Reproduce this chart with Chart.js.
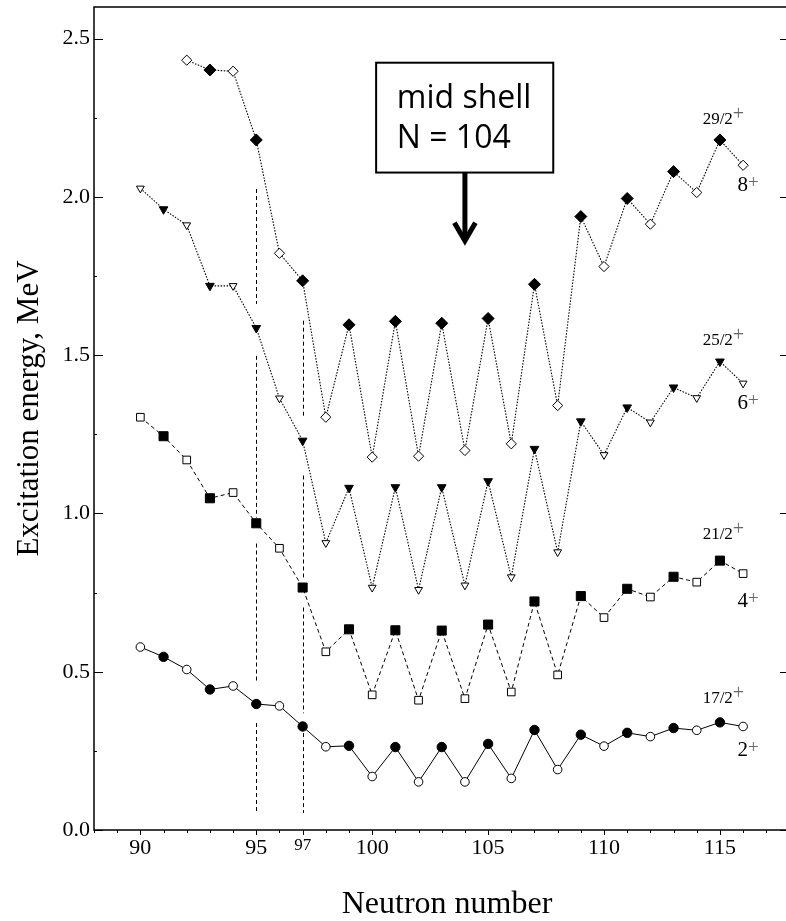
<!DOCTYPE html>
<html><head><meta charset="utf-8">
<script src="https://cdn.jsdelivr.net/npm/chart.js@4/dist/chart.umd.min.js"></script>
<style>html,body{margin:0;padding:0;background:#fff;overflow:hidden}#wrap{width:786px;height:921px;position:relative}</style>
</head><body><div id="wrap"><canvas id="c" width="786" height="921"></canvas></div>
<script>
// ---- data ----
const neutronN  = [90,91,92,93,94,95,96,97,98,99,100,101,102,103,104,105,106,107,108,109,110,111,112,113,114,115,116];
const neutronN8 = [92,93,94,95,96,97,98,99,100,101,102,103,104,105,106,107,108,109,110,111,112,113,114,115,116];
const e2plus = [0.578,0.547,0.507,0.444,0.455,0.398,0.392,0.327,0.263,0.266,0.169,0.262,0.152,0.262,0.152,0.272,0.163,0.316,0.191,0.301,0.265,0.307,0.295,0.322,0.315,0.340,0.327];
const e4plus = [1.304,1.244,1.169,1.048,1.066,0.969,0.890,0.766,0.563,0.634,0.427,0.631,0.410,0.630,0.415,0.649,0.436,0.722,0.490,0.739,0.671,0.762,0.736,0.800,0.783,0.851,0.810];
const e6plus = [2.027,1.961,1.911,1.719,1.719,1.586,1.364,1.230,0.907,1.081,0.766,1.083,0.759,1.083,0.773,1.102,0.799,1.204,0.878,1.291,1.185,1.335,1.288,1.398,1.365,1.480,1.411];
const e8plus = [2.432,2.401,2.397,2.180,1.822,1.735,1.304,1.596,1.178,1.607,1.181,1.601,1.199,1.616,1.220,1.724,1.341,1.938,1.780,1.995,1.914,2.080,2.014,2.180,2.100];
const xTickLabels = [90,95,97,100,105,110,115];
const yTickValues = [0,0.5,1.0,1.5,2.0,2.5];
const evenLabels = ['2','4','6','8'];
const oddLabels  = ['17/2','21/2','25/2','29/2'];
const xTitle = 'Neutron number';
const yTitle = 'Excitation energy, MeV';
const boxLines = ['mid shell','N = 104'];
const midShellN = 104;
const guideN = [95, 97];
const guideSegs = [
  [[2.025,1.662],[1.498,0.987],[0.905,0.467],[0.338,0.054]],
  [[1.609,1.300],[1.120,0.798],[0.703,0.369],[0.306,0.054]]
];
const boxN = [100.17, 107.81];
const boxE = [2.424, 2.077];
const arrowTipE = 1.852;

// ---- styles ----
const SERIF = '"Liberation Serif","Times New Roman",serif';
const SANS = '"Open Sans","Noto Sans",sans-serif';
const isOdd = c => c.raw && (c.raw.x % 2 === 1);

function series(ns, es, style, rFilled, rOpen, dash, bw) {
  return {
    data: ns.map((n,i)=>({x:n, y:es[i]})),
    borderColor:'#000', borderWidth:bw, borderDash:dash,
    pointStyle:style, pointRotation: style==='triangle'?180:0,
    pointRadius: c => isOdd(c) ? rFilled : rOpen,
    pointBackgroundColor: c => isOdd(c) ? '#000' : '#fff',
    pointBorderColor:'#000', pointBorderWidth:1,
    tension:0, fill:false
  };
}

// label offsets (px) relative to last two points
const labelOffsets = [
  {oddDy:-19, evenDy:30},
  {oddDy:-22, evenDy:33},
  {oddDy:-17, evenDy:26},
  {oddDy:-16, evenDy:26}
];

const decor = {
  id:'decor',
  beforeDatasetsDraw(chart){
    const {ctx, scales:{x,y}} = chart;
    ctx.save(); ctx.strokeStyle='#000'; ctx.lineWidth=1; ctx.setLineDash([4,3]);
    guideN.forEach((n,k)=>{
      const px = Math.round(x.getPixelForValue(n))+0.5;
      guideSegs[k].forEach(([a,b])=>{
        ctx.beginPath(); ctx.moveTo(px, y.getPixelForValue(a)); ctx.lineTo(px, y.getPixelForValue(b)); ctx.stroke();
      });
    });
    ctx.restore();
  },
  afterDraw(chart){
    const {ctx, chartArea:a, scales:{x,y}} = chart;
    ctx.save();
    // frame
    ctx.strokeStyle='#000'; ctx.lineWidth=1.5; ctx.setLineDash([]);
    ctx.beginPath();
    ctx.moveTo(a.right+1, a.top); ctx.lineTo(a.left, a.top); ctx.lineTo(a.left, a.bottom); ctx.lineTo(a.right+1, a.bottom);
    ctx.stroke();
    ctx.lineWidth=1;
    // x ticks (outward)
    for (let n=Math.ceil(x.min); n<=x.max; n++){
      const px = Math.round(x.getPixelForValue(n))+0.5;
      const len = xTickLabels.includes(n) ? 5 : 3;
      ctx.beginPath(); ctx.moveTo(px, a.bottom); ctx.lineTo(px, a.bottom+len); ctx.stroke();
    }
    // y ticks (inward)
    for (let k=0; k<=10; k++){
      const v = k*0.25;
      const py = Math.round(y.getPixelForValue(v))+0.5;
      const major = k%2===0;
      ctx.beginPath(); ctx.moveTo(a.left, py); ctx.lineTo(a.left+(major?9:3), py); ctx.stroke();
      if (major){ ctx.beginPath(); ctx.moveTo(a.right, py); ctx.lineTo(a.right-6, py); ctx.stroke(); }
    }
    // axis titles
    ctx.fillStyle='#000';
    ctx.font = '31px '+SERIF; ctx.textAlign='center'; ctx.textBaseline='alphabetic';
    ctx.save(); ctx.translate(38, 408.5); ctx.rotate(-Math.PI/2); ctx.fillText(yTitle,0,0); ctx.restore();
    ctx.font = '32px '+SERIF;
    ctx.fillText(xTitle, 447, 913);
    // state labels
    const sets = [e2plus,e4plus,e6plus,e8plus];
    sets.forEach((es,i)=>{
      const nArr = i===3 ? neutronN8 : neutronN;
      const L = es.length;
      const pOdd = y.getPixelForValue(es[L-2]);
      const pEven = y.getPixelForValue(es[L-1]);
      const xOdd = x.getPixelForValue(nArr[L-2]) - 17.3;
      const xEven = x.getPixelForValue(nArr[L-1]) - 5.5;
      const off = labelOffsets[i];
      ctx.textAlign='left'; ctx.textBaseline='alphabetic';
      ctx.font='17px '+SERIF; ctx.fillStyle='#000';
      const ty = pOdd + off.oddDy;
      ctx.fillText(oddLabels[i], xOdd, ty);
      const w1 = ctx.measureText(oddLabels[i]).width;
      ctx.font='20px '+SERIF; ctx.fillStyle='#666';
      ctx.fillText('+', xOdd+w1, ty-4);
      const by = pEven + off.evenDy;
      ctx.font='21px '+SERIF; ctx.fillStyle='#000';
      ctx.fillText(evenLabels[i], xEven, by);
      const w2 = ctx.measureText(evenLabels[i]).width;
      ctx.font='19px '+SERIF; ctx.fillStyle='#666';
      ctx.fillText('+', xEven+w2, by-3);
    });
    // mid shell box
    const bx0 = x.getPixelForValue(boxN[0]), bx1 = x.getPixelForValue(boxN[1]);
    const by0 = y.getPixelForValue(boxE[0]), by1 = y.getPixelForValue(boxE[1]);
    ctx.fillStyle='#fff'; ctx.fillRect(bx0,by0,bx1-bx0,by1-by0);
    ctx.strokeStyle='#000'; ctx.lineWidth=2;
    ctx.strokeRect(bx0,by0,bx1-bx0,by1-by0);
    ctx.fillStyle='#000'; ctx.font='32px '+SANS; ctx.textAlign='left';
    ctx.fillText(boxLines[0], bx0+20.7, by0+45);
    ctx.fillText(boxLines[1], bx0+20.7, by0+85);
    // arrow
    const ax = x.getPixelForValue(midShellN), tip = y.getPixelForValue(arrowTipE);
    ctx.lineWidth=5; ctx.lineCap='butt'; ctx.lineJoin='miter';
    ctx.beginPath(); ctx.moveTo(ax, by1); ctx.lineTo(ax, tip-4); ctx.stroke();
    ctx.beginPath(); ctx.moveTo(ax-10.5, tip-21); ctx.lineTo(ax, tip-3); ctx.lineTo(ax+10.5, tip-21); ctx.stroke();
    ctx.restore();
  }
};

new Chart(document.getElementById('c'), {
  type:'line',
  data:{ datasets:[
    series(neutronN,  e2plus, 'circle',   4.7, 4.3, [], 1),
    series(neutronN,  e4plus, 'rect',     6.4, 5.4, [4,3], 1),
    series(neutronN,  e6plus, 'triangle', 5.0, 4.5, [1.5,1.5], 1.1),
    series(neutronN8, e8plus, 'rectRot',  6.0, 5.1, [1.5,1.5], 1.1)
  ]},
  options:{
    responsive:false, animation:false, devicePixelRatio:1, events:[],
    layout:{autoPadding:false, padding:{top:7,right:0,left:0,bottom:0}},
    plugins:{legend:{display:false}, tooltip:{enabled:false}},
    scales:{
      x:{ type:'linear', min:88, max:117.85,
          grid:{display:false, drawTicks:false}, border:{display:false},
          ticks:{ stepSize:1, autoSkip:false, maxRotation:0, includeBounds:false, padding:5, color:'#000',
            callback: v => xTickLabels.includes(v) ? String(v) : '',
            font: c => ({family:SERIF, size: (c.tick && c.tick.value===97) ? 17 : 22}) },
          afterFit(s){ s.height = 91; s.paddingLeft=0; s.paddingRight=0; } },
      y:{ type:'linear', min:0, max:2.6,
          grid:{display:false, drawTicks:false}, border:{display:false},
          ticks:{ stepSize:0.5, includeBounds:false, padding:4, color:'#000',
            callback: v => yTickValues.some(t=>Math.abs(t-v)<1e-6) ? v.toFixed(1) : '',
            font:{family:SERIF, size:22} },
          afterFit(s){ s.width = 94; s.paddingTop=0; s.paddingBottom=0; } }
    }
  },
  plugins:[decor]
});
</script></body></html>
